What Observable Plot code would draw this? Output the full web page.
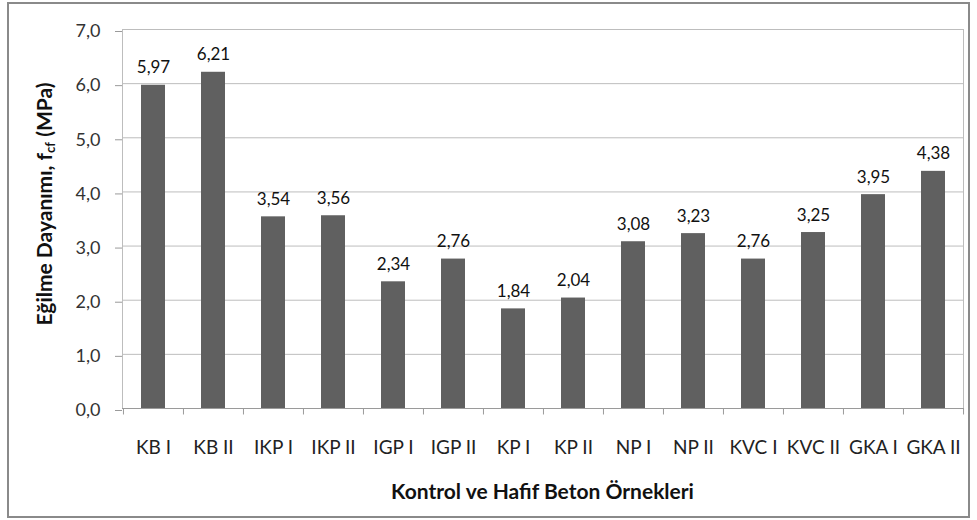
<!DOCTYPE html>
<html><head><meta charset="utf-8">
<script src="https://cdn.jsdelivr.net/npm/d3@7"></script>
<script src="https://cdn.jsdelivr.net/npm/@observablehq/plot@0.6"></script>
<style>
body{margin:0;background:#fff;}
#wrap{position:relative;width:977px;height:520px;}
#border{position:absolute;left:7px;top:2px;width:963px;height:516px;border:2px solid #8a8a8a;box-sizing:border-box;pointer-events:none}
svg{font-family:Lato,"Open Sans",sans-serif;}
</style></head><body><div id="wrap"><div id="border"></div></div>
<script>
const categories = ["KB I","KB II","IKP I","IKP II","IGP I","IGP II","KP I","KP II","NP I","NP II","KVC I","KVC II","GKA I","GKA II"];
const values = [5.97,6.21,3.54,3.56,2.34,2.76,1.84,2.04,3.08,3.23,2.76,3.25,3.95,4.38];
const yTicks = [0,1,2,3,4,5,6,7];
const yLabelMain = "Eğilme Dayanımı, f";
const yLabelSub = "cf";
const yLabelEnd = " (MPa)";
const xLabel = "Kontrol ve Hafif Beton Örnekleri";

const data = categories.map((c,i)=>({c, v: values[i]}));
const fmt2 = v => v.toFixed(2).replace(".",",");
const fmt1 = v => v.toFixed(1).replace(".",",");

const W = 977, H = 520, ML = 122, MR = 14, MT = 29, MB = 112;
const step = (W - ML - MR) / categories.length;

const plot = Plot.plot({
  width: W, height: H,
  marginLeft: ML, marginRight: MR, marginTop: MT, marginBottom: MB,
  style: {background: "transparent", fontFamily: "Lato, 'Open Sans', sans-serif"},
  x: {domain: categories, paddingInner: 0.6, paddingOuter: 0.3},
  y: {domain: [0, 7]},
  marks: [
    Plot.gridY(yTicks, {stroke: "#bdbdbd", strokeOpacity: 1}),
    Plot.frame({stroke: "#bdbdbd"}),
    Plot.barY(data, {x: "c", y: "v", fill: "#606060"}),
    Plot.ruleY([0], {stroke: "#9a9a9a"}),
    Plot.ruleX(categories, {x: d => d, y1: 0, y2: -0.12, dx: -step/2, stroke: "#9a9a9a"}),
    Plot.ruleX([categories[categories.length-1]], {x: d => d, y1: 0, y2: -0.12, dx: step/2, stroke: "#9a9a9a"}),
    Plot.axisY(yTicks, {tickFormat: fmt1, tickSize: 7, tickPadding: 15, dy: 2, fontSize: 18, label: null, stroke: "#9a9a9a", fill: "#333"}),
    Plot.axisX({tickSize: 0, tickPadding: 32, fontSize: 19, label: null, fill: "#222"}),
    Plot.text(data, {x: "c", y: "v", text: d => fmt2(d.v), lineAnchor: "bottom", dy: -12, fontSize: 17, fill: "#111"})
  ]
});
document.getElementById("wrap").appendChild(plot);
const svg = d3.select(plot);
const cx = ML + (W - ML - MR) / 2;
svg.append("text")
  .attr("x", cx).attr("y", 499)
  .attr("text-anchor", "middle")
  .attr("font-size", 21).attr("font-weight", "bold").attr("fill", "#111")
  .text(xLabel);
const yt = svg.append("text")
  .attr("transform", `translate(52,204) rotate(-90)`)
  .attr("text-anchor", "middle")
  .attr("font-size", 21).attr("font-weight", "bold").attr("fill", "#111");
yt.append("tspan").text(yLabelMain);
yt.append("tspan").attr("font-size", 13).attr("dy", 3).text(yLabelSub);
yt.append("tspan").attr("dy", -3).text(yLabelEnd);
</script></body></html>
